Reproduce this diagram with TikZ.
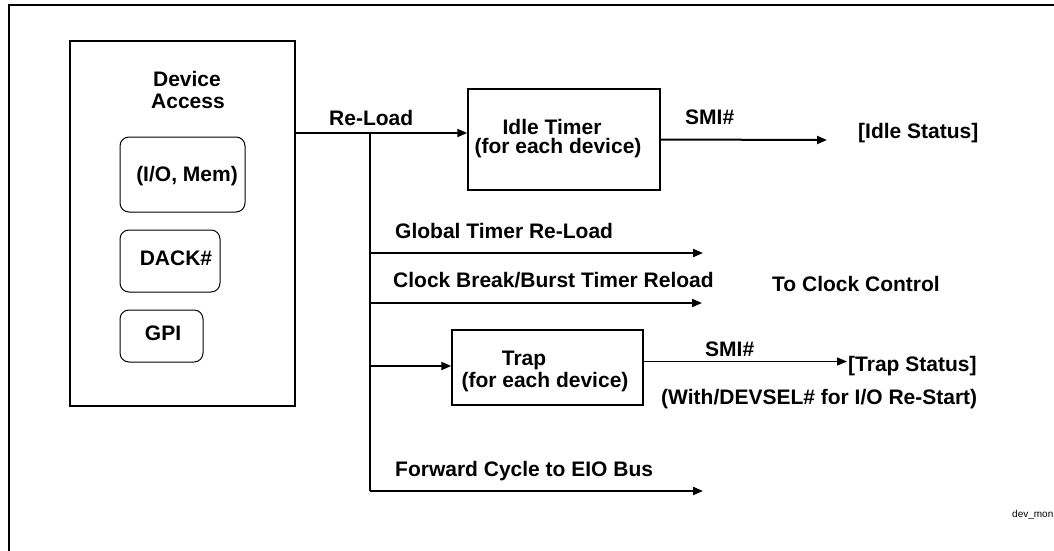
\documentclass[tikz,border=0pt]{standalone}
\usepackage{fontspec}
\setmainfont{Liberation Sans}
\usetikzlibrary{arrows.meta}

\begin{document}
\begin{tikzpicture}[x=1pt,y=-1pt,
  every node/.style={font=\fontsize{21}{23}\selectfont\bfseries, inner sep=0pt},
  lbl/.style={anchor=base},
  lblw/.style={anchor=base west},
  blk/.style={shape=rectangle, draw, line width=1.5pt},
  rblk/.style={shape=rectangle, draw, rounded corners=9pt, line width=1pt},
  sig/.style={line width=2pt},
  sigarr/.style={sig, -{Triangle[length=10pt,width=8pt]}}]
\useasboundingbox (0,0) rectangle (1054,550);
\clip (0,0) rectangle (1054,550);
\draw[line width=2pt] (9,5) rectangle (1100,600);

% device access block
\path (182.5,223.5) node (DevAcc) [blk, minimum width=225pt, minimum height=365pt] {};
\path (187,86) node (DevT1) [lbl] {Device};
\path (188,108) node (DevT2) [lbl] {Access};
\path (182.5,174.5) node (IOMem) [rblk, minimum width=125pt, minimum height=75pt] {};
\path (187,181) node (IOMemT) [lbl] {(I/O, Mem)};
\path (170,261) node (Dack) [rblk, minimum width=100pt, minimum height=62pt] {};
\path (176,265) node (DackT) [lbl] {DACK\#};
\path (161.5,336) node (Gpi) [rblk, minimum width=83pt, minimum height=52pt] {};
\path (163,340) node (GpiT) [lbl] {GPI};

% timer and trap blocks
\path (564,139.5) node (Idle) [blk, minimum width=192pt, minimum height=101pt] {};
\path (552,134) node (IdleT1) [lbl] {Idle Timer};
\path (558,153) node (IdleT2) [lbl] {(for each device)};
\path (547.5,367.5) node (Trap) [blk, minimum width=191pt, minimum height=75pt] {};
\path (524,365) node (TrapT1) [lbl] {Trap};
\path (545,387) node (TrapT2) [lbl] {(for each device)};

% signal labels
\path (329,125) node (ReLoad) [lblw] {Re-Load};
\path (685,124) node (SmiA) [lblw] {SMI\#};
\path (858,138) node (IdleStat) [lblw] {[Idle Status]};
\path (395,238) node (GlobT) [lblw] {Global Timer Re-Load};
\path (393,287) node (ClkT) [lblw] {Clock Break/Burst Timer Reload};
\path (772,291) node (ToClk) [lblw] {To Clock Control};
\path (705,356) node (SmiB) [lblw] {SMI\#};
\path (848,371) node (TrapStat) [lblw] {[Trap Status]};
\path (661,404) node (DevSel) [lblw] {(With/DEVSEL\# for I/O Re-Start)};
\path (395,476) node (FwdT) [lblw] {Forward Cycle to EIO Bus};
\path (1012,517) node (FigId) [lblw, font=\fontsize{10}{12}\selectfont] {dev\_mon};

% connectors
\coordinate (RLsrc) at (295,133);
\coordinate (RLjoin) at (370,133);
\coordinate (GlobEnd) at (703,253);
\coordinate (ClkEnd) at (702,303);
\coordinate (TrapIn) at (370,366);
\coordinate (FwdEnd) at (703,491);
\coordinate (SmiAEnd) at (827,140);
\coordinate (SmiBEnd) at (847,361.5);

\draw[sigarr] (RLsrc) -- (RLsrc -| Idle.west);
\draw[sig] (RLjoin) -- (RLjoin |- FwdEnd);
\draw[sigarr] (GlobEnd -| RLjoin) -- (GlobEnd);
\draw[sigarr] (ClkEnd -| RLjoin) -- (ClkEnd);
\draw[sigarr] (TrapIn) -- (TrapIn -| Trap.west);
\draw[sigarr] (FwdEnd -| RLjoin) -- (FwdEnd);
\draw[sigarr] (Idle.east) -- (SmiAEnd);
\draw[sigarr, line width=1.2pt] (SmiBEnd -| Trap.east) -- (SmiBEnd);

\end{tikzpicture}
\end{document}
